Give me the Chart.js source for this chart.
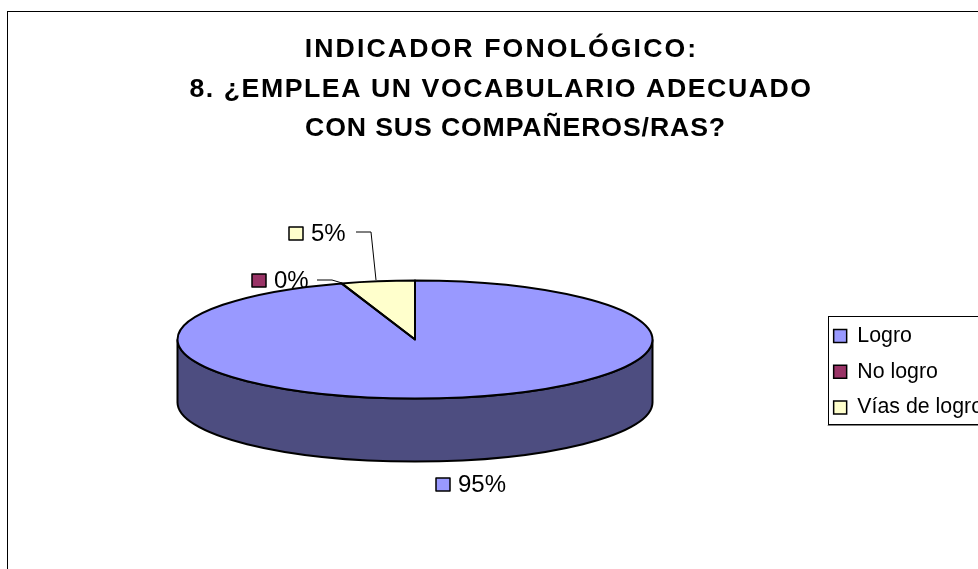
<!DOCTYPE html>
<html><head><meta charset="utf-8">
<style>html,body{margin:0;padding:0;background:#fff;overflow:hidden;width:978px;height:569px}canvas{display:block}</style>
<script src="https://cdn.jsdelivr.net/npm/chart.js@4"></script>
</head><body>
<canvas id="c" width="1003" height="569" style="width:1003px;height:569px"></canvas>
<script>
const categories = ["Logro", "No logro", "Vías de logro"];
const values = [95, 0, 5];
const colors = ["#9999FF", "#993366", "#FFFFCC"];
const sideColors = ["#4D4D80", "#4D1A33", "#808066"];
const titleLines = ["INDICADOR FONOLÓGICO:", "8. ¿EMPLEA UN VOCABULARIO ADECUADO", "CON SUS COMPAÑEROS/RAS?"];
const titleFit = [{ spacing: 2.1, shift: 5 }, { spacing: 1.56, shift: 4.5 }, { spacing: 0.87, shift: 19 }];
const FONT = '"Liberation Sans", Arial, sans-serif';
const pieView = { cx: 415, cy: 339.5, squash: 59 / 237.5, depth: 63 };
const labelSpots = [
  { box: [436, 478], text: [458, 492], leader: null },
  { box: [252, 274], text: [274, 288], leader: [[317, 280], [332, 280], [342, 283]] },
  { box: [289, 227], text: [311, 241], leader: [[356, 232], [371, 232], [376, 280]] }
];

function toView(ctx, arc) {
  ctx.translate(pieView.cx, pieView.cy);
  ctx.scale(1, pieView.squash);
  ctx.translate(-arc.x, -arc.y);
}
const pie3d = {
  id: 'pie3d',
  beforeInit(chart) {
    const ctx = chart.ctx, plain = ctx.fillText.bind(ctx);
    ctx.fillText = (t, x, y, w) => {
      const k = titleLines.indexOf(t);
      if (k < 0) return plain(t, x, y, w);
      ctx.letterSpacing = titleFit[k].spacing + 'px';
      plain(t, x + titleFit[k].shift, y, w);
      ctx.letterSpacing = '0px';
    };
  },
  beforeDraw(chart) {
    const ctx = chart.ctx;
    ctx.save();
    ctx.fillStyle = '#fff';
    ctx.fillRect(0, 0, chart.width, chart.height);
    ctx.strokeStyle = '#000'; ctx.lineWidth = 1;
    ctx.strokeRect(7.5, 11.5, 1100, 700);
    const lg = chart.legend, hb = lg.legendHitBoxes;
    const bx = hb[0].left - 6, top = hb[0].top - 9, bottom = hb[hb.length - 1].top + hb[hb.length - 1].height + 6;
    ctx.strokeStyle = '#808080';
    ctx.beginPath(); ctx.moveTo(bx, Math.round(bottom) + 1.5); ctx.lineTo(chart.width, Math.round(bottom) + 1.5); ctx.stroke();
    ctx.strokeStyle = '#000';
    ctx.strokeRect(Math.round(bx) + 0.5, Math.round(top) + 0.5, 400, Math.round(bottom - top));
    ctx.restore();
  },
  beforeDatasetsDraw(chart) {
    const ctx = chart.ctx;
    const arcs = chart.getDatasetMeta(0).data;
    const ry = arcs[0].outerRadius * pieView.squash;
    arcs.forEach((arc, i) => {
      const a = Math.max(arc.startAngle, 0), b = Math.min(arc.endAngle, Math.PI);
      if (b <= a) return;
      const r = arc.outerRadius;
      ctx.save();
      ctx.beginPath();
      ctx.ellipse(pieView.cx, pieView.cy, r, ry, 0, a, b);
      ctx.ellipse(pieView.cx, pieView.cy + pieView.depth, r, ry, 0, b, a, true);
      ctx.closePath();
      ctx.fillStyle = sideColors[i];
      ctx.fill();
      ctx.strokeStyle = '#000'; ctx.lineWidth = 2;
      ctx.stroke();
      ctx.restore();
    });
    ctx.save();
    toView(ctx, arcs[0]);
  },
  afterDatasetsDraw(chart) {
    const ctx = chart.ctx;
    ctx.restore();
    const arcs = chart.getDatasetMeta(0).data;
    const ry = arcs[0].outerRadius * pieView.squash;
    ctx.save();
    ctx.strokeStyle = '#000'; ctx.lineWidth = 2; ctx.lineJoin = 'round';
    arcs.forEach(arc => {
      if (arc.endAngle - arc.startAngle <= 0) return;
      ctx.beginPath();
      ctx.moveTo(pieView.cx, pieView.cy);
      ctx.ellipse(pieView.cx, pieView.cy, arc.outerRadius, ry, 0, arc.startAngle, arc.endAngle);
      ctx.closePath();
      ctx.stroke();
    });
    ctx.font = '24px ' + FONT;
    ctx.textBaseline = 'alphabetic';
    arcs.forEach((arc, i) => {
      const s = labelSpots[i];
      const total = values.reduce((p, v) => p + v, 0);
      ctx.lineWidth = 1;
      if (s.leader) {
        ctx.strokeStyle = '#000';
        ctx.beginPath();
        s.leader.forEach((p, k) => k ? ctx.lineTo(p[0], p[1]) : ctx.moveTo(p[0], p[1]));
        ctx.stroke();
      }
      ctx.fillStyle = colors[i];
      ctx.fillRect(s.box[0], s.box[1], 14, 13);
      ctx.lineWidth = 1.5; ctx.strokeStyle = '#000';
      ctx.strokeRect(s.box[0], s.box[1], 14, 13);
      ctx.fillStyle = '#000';
      ctx.fillText(Math.round(values[i] / total * 100) + '%', s.text[0], s.text[1]);
    });
    ctx.restore();
  }
};

new Chart(document.getElementById('c'), {
  type: 'pie',
  plugins: [pie3d],
  data: { labels: categories, datasets: [{ data: values, backgroundColor: colors, borderWidth: 0, clip: false }] },
  options: {
    responsive: false,
    animation: false,
    radius: 237.5,
    layout: { padding: { top: 30, right: 10, left: 0, bottom: 0 } },
    plugins: {
      tooltip: { enabled: false },
      title: {
        display: true, text: titleLines, color: '#000',
        font: { family: FONT, size: 26.67, weight: 'bold', lineHeight: 1.48 },
        padding: { top: 0, bottom: 26 }
      },
      legend: {
        display: true, position: 'right', fullSize: false,
        labels: {
          color: '#000', boxWidth: 13, boxHeight: 13, padding: 14.5,
          font: { family: FONT, size: 21.33 },
          generateLabels(chart) {
            return categories.map((t, i) => ({ text: t, fillStyle: colors[i], strokeStyle: '#000', lineWidth: 1.5, index: i, hidden: false }));
          }
        }
      }
    }
  }
});
</script>
</body></html>
